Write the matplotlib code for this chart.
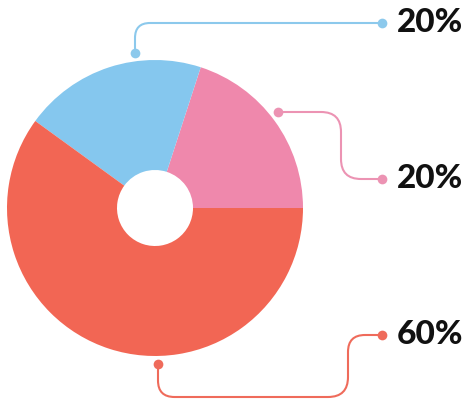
import numpy as np
import matplotlib
matplotlib.use("Agg")
import matplotlib.pyplot as plt
from matplotlib.path import Path
from matplotlib.patches import PathPatch

W, H = 469, 401

# data
labels = ["20%", "20%", "60%"]
values = [20, 20, 60]
colors = ["#EF88AC", "#85C7EE", "#F26654"]
line_colors = ["#EC93B3", "#8CC9EC", "#EF6B5B"]

# callout routes in image pixels (y down): anchor dot -> corners -> end dot
routes = {
    1: [(135, 53), (135, 23), (382, 23)],                       # blue
    0: [(278, 112), (341, 112), (341, 179), (382, 179)],        # pink
    2: [(158, 364), (158, 397), (348, 397), (348, 335), (382, 335)],  # red
}


def rounded_path(pts, r=20):
    pts = [np.array((x, H - y), dtype=float) for x, y in pts]
    verts = [pts[0]]
    codes = [Path.MOVETO]
    for i in range(1, len(pts) - 1):
        p0, p1, p2 = pts[i - 1], pts[i], pts[i + 1]
        d_in = (p1 - p0) / np.linalg.norm(p1 - p0)
        d_out = (p2 - p1) / np.linalg.norm(p2 - p1)
        rr = min(r, np.linalg.norm(p1 - p0) / 2, np.linalg.norm(p2 - p1) / 2)
        verts += [p1 - d_in * rr, p1, p1 + d_out * rr]
        codes += [Path.LINETO, Path.CURVE3, Path.CURVE3]
    verts.append(pts[-1])
    codes.append(Path.LINETO)
    return Path(verts, codes)


fig = plt.figure(figsize=(W / 100, H / 100), dpi=100)
ax = fig.add_axes([0, 0, 1, 1])

cx, cy, R, r_hole = 155, H - 208, 148, 38
ax.pie(values, colors=colors, startangle=0, counterclock=True,
       center=(cx, cy), radius=R, frame=True,
       wedgeprops=dict(width=R - r_hole, linewidth=0))
ax.set_xlim(0, W)
ax.set_ylim(0, H)
ax.set_aspect("equal")
ax.axis("off")

for i, pts in routes.items():
    c = line_colors[i]
    ax.add_patch(PathPatch(rounded_path(pts), fill=False, edgecolor=c, lw=1.5,
                           capstyle="round"))
    for x, y in (pts[0], pts[-1]):
        ax.plot(x, H - y, "o", color=c, ms=7, mec="none")
    ex, ey = pts[-1]
    ax.text(ex + 15, H - ey, labels[i], ha="left", va="center",
            fontsize=24, fontweight="black", color="#111111",
            family=["Lato", "DejaVu Sans"])

fig.savefig("out.png", dpi=100, facecolor="white")
